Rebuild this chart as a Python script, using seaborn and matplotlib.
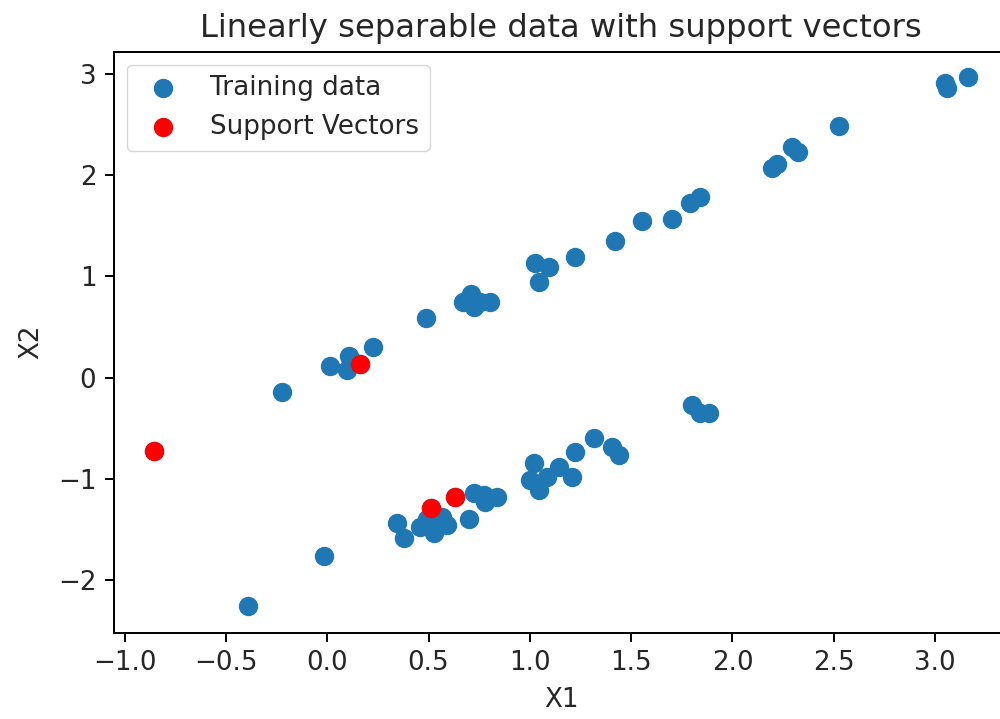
import matplotlib
matplotlib.use("Agg")
import matplotlib.pyplot as plt
import seaborn as sns
import pandas as pd

# Training samples (two linearly separable groups)
train_x1 = [-0.221, 0.013, 0.106, 0.098, 0.161, 0.227, 0.488, 0.671, 0.710, 0.723,
            0.802, 0.756, 1.027, 1.093, 1.043, 1.224, 1.422, 1.553, 1.701, 1.792,
            1.841, 2.194, 2.219, 2.293, 2.326, 2.527, 3.058, 3.049, 3.164,
            -0.393, -0.014, -0.857, 0.345, 0.378, 0.514, 0.633, 0.460, 0.525, 0.592,
            0.567, 0.490, 0.698, 0.723, 0.781, 0.838, 0.772, 1.019, 1.002, 1.043,
            1.085, 1.142, 1.208, 1.224, 1.315, 1.405, 1.438, 1.800, 1.841, 1.882]
train_x2 = [-0.142, 0.115, 0.213, 0.075, 0.134, 0.299, 0.586, 0.750, 0.826, 0.695,
            0.744, 0.750, 1.129, 1.096, 0.948, 1.195, 1.350, 1.547, 1.567, 1.728,
            1.782, 2.068, 2.111, 2.282, 2.232, 2.489, 2.859, 2.911, 2.973,
            -2.257, -1.763, -0.725, -1.440, -1.588, -1.286, -1.177, -1.473, -1.539, -1.457,
            -1.374, -1.400, -1.397, -1.143, -1.226, -1.177, -1.160, -0.847, -1.012, -1.111,
            -0.979, -0.880, -0.979, -0.732, -0.600, -0.683, -0.765, -0.271, -0.353, -0.353]

# Support vectors found by the classifier
sv_x1 = [-0.857, 0.161, 0.514, 0.633]
sv_x2 = [-0.725, 0.134, -1.286, -1.177]

train = pd.DataFrame({"X1": train_x1, "X2": train_x2})
sv = pd.DataFrame({"X1": sv_x1, "X2": sv_x2})

text_color = "#262626"
plt.rcParams.update({
    "font.family": ["DejaVu Sans"],
    "font.size": 18.8,
    "text.color": text_color,
    "axes.labelcolor": text_color,
    "xtick.labelcolor": text_color,
    "ytick.labelcolor": text_color,
    "axes.linewidth": 1.42,
    "xtick.major.width": 1.42,
    "ytick.major.width": 1.42,
    "xtick.major.size": 6.2,
    "ytick.major.size": 6.2,
    "xtick.major.pad": 6.2,
    "ytick.major.pad": 6.2,
})

fig = plt.figure(figsize=(10, 7.19), dpi=100)
ax = fig.add_axes([0.1135, 1 - 632.5 / 719, 1.009 - 0.1135, (632.5 - 51.5) / 719])

sns.scatterplot(data=train, x="X1", y="X2", ax=ax, color="#1f77b4", s=195,
                linewidth=0, label="Training data")
sns.scatterplot(data=sv, x="X1", y="X2", ax=ax, color="red", s=195,
                linewidth=0, label="Support Vectors")

ax.set_xlim(-1.055, 3.365)
ax.set_ylim(-2.519, 3.222)
ax.set_xticks([-1.0, -0.5, 0.0, 0.5, 1.0, 1.5, 2.0, 2.5, 3.0])
ax.set_yticks([-2, -1, 0, 1, 2, 3])
ax.set_xlabel("X1", labelpad=8)
ax.set_ylabel("X2", labelpad=10)
ax.set_title("Linearly separable data with support vectors", fontsize=23.2, pad=10.7)
ax.legend(loc="upper left", fontsize=18.8)

fig.savefig("out.png", dpi=100)
